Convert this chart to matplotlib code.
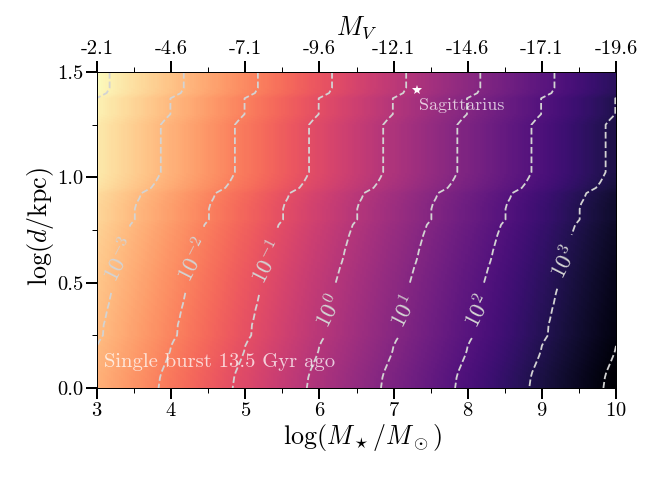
import numpy as np
import matplotlib
matplotlib.use('Agg')
import matplotlib.pyplot as plt

plt.rcParams['font.family'] = ['cmr10', 'DejaVu Serif']
plt.rcParams['mathtext.fontset'] = 'cm'
plt.rcParams['axes.unicode_minus'] = False
plt.rcParams['axes.formatter.use_mathtext'] = True

# values: log10 of the field along the left and right edges,
# one row every 0.025 in log d
log_mass = [3, 10]
log_dist = np.arange(61) * 0.025
field_m3 = [-2.83, -2.84, -2.85, -2.87, -2.90, -2.93, -2.96, -2.985, -3.00, -3.035,
            -3.08, -3.085, -3.09, -3.11, -3.125, -3.14, -3.16, -3.175, -3.19, -3.21,
            -3.22, -3.24, -3.26, -3.28, -3.305, -3.325, -3.34, -3.36, -3.38, -3.40,
            -3.425, -3.45, -3.51, -3.51, -3.51, -3.53, -3.57, -3.60, -3.73, -3.785,
            -3.825, -3.86, -3.86, -3.86, -3.86, -3.86, -3.86, -3.86, -3.86, -3.86,
            -3.86, -3.92, -3.99, -3.99, -3.99, -3.99, -4.13, -4.17, -4.17, -4.17, -4.17]
field_m10 = [4.17, 4.16, 4.15, 4.13, 4.10, 4.07, 4.04, 4.015, 4.00, 3.965,
             3.92, 3.915, 3.91, 3.89, 3.875, 3.86, 3.84, 3.825, 3.81, 3.79,
             3.78, 3.76, 3.74, 3.72, 3.695, 3.675, 3.66, 3.64, 3.62, 3.60,
             3.575, 3.55, 3.49, 3.49, 3.49, 3.47, 3.43, 3.40, 3.27, 3.215,
             3.175, 3.14, 3.14, 3.14, 3.14, 3.14, 3.14, 3.14, 3.14, 3.14,
             3.14, 3.08, 3.01, 3.01, 3.01, 3.01, 2.87, 2.83, 2.83, 2.83, 2.83]
levels = [-4, -3, -2, -1, 0, 1, 2, 3, 4]
level_names = {-4: r'$10^{-4}$', -3: r'$10^{-3}$', -2: r'$10^{-2}$', -1: r'$10^{-1}$', 0: r'$10^{0}$',
               1: r'$10^{1}$', 2: r'$10^{2}$', 3: r'$10^{3}$', 4: r'$10^{4}$'}
label_spots = [(3.27, 0.61), (4.26, 0.61), (5.24, 0.60), (6.07, 0.365),
               (7.08, 0.365), (8.08, 0.365), (9.27, 0.60)]

mv_ticks = [3, 4, 5, 6, 7, 8, 9, 10]
mv_labels = ['-2.1', '-4.6', '-7.1', '-9.6', '-12.1', '-14.6', '-17.1', '-19.6']
sgr_mass, sgr_dist = 7.32, 1.414

fig = plt.figure(figsize=(9, 6.75), dpi=72)
ax = fig.add_axes([97/648, 1 - 388/486, 519/648, 316/486])

field = np.column_stack([field_m3, field_m10])
# extent puts the pixel centres on the grid values
ax.imshow(field, origin='lower', aspect='auto', cmap='magma_r', vmin=-4.2, vmax=4.2,
          extent=[3 - 3.5, 10 + 3.5, -0.0125, 1.5125],
          interpolation='bilinear', interpolation_stage='data')
cs = ax.contour(log_mass, log_dist, field, levels=levels, colors='lightgrey',
                linestyles='--', linewidths=1.8)
labels = ax.clabel(cs, fmt=level_names, manual=label_spots, fontsize=23, inline=True, inline_spacing=10)
for t in labels:
    t.set_rotation(63)

ax.plot(sgr_mass, sgr_dist, marker='*', color='white', ms=10, mew=0, ls='none')
ax.text(7.34, 1.34, 'Sagittarius', color='white', alpha=0.75, fontsize=18, va='center')
ax.text(3.09, 0.125, 'Single burst 13.5 Gyr ago', color='white', alpha=0.75, fontsize=20.6, va='center')

ax.set_xlim(3, 10)
ax.set_ylim(0, 1.5)
ax.set_xticks(mv_ticks)
ax.set_xticks(np.arange(3.5, 10, 1), minor=True)
ax.set_yticks([0, 0.5, 1, 1.5])
ax.set_yticklabels(['0.0', '0.5', '1.0', '1.5'])
ax.set_yticks([0.25, 0.75, 1.25], minor=True)
ax.set_xlabel(r'$\log(M_\star/M_\odot)$', fontsize=26, labelpad=2, x=0.511)
ax.set_ylabel(r'$\log(d/{\rm kpc})$', fontsize=26, labelpad=1, y=0.51)
ax.tick_params(which='major', length=11, width=2, labelsize=20.5, pad=3)
ax.tick_params(which='minor', length=5, width=1)

top = ax.secondary_xaxis('top')
top.set_xticks(mv_ticks)
top.set_xticklabels(mv_labels)
top.set_xticks(np.arange(3.5, 10, 1), minor=True)
top.tick_params(which='major', length=11, width=2, labelsize=20.5, pad=3)
top.tick_params(which='minor', length=5, width=1)
top.set_xlabel(r'$M_V$', fontsize=26, labelpad=5)

for s in ax.spines.values():
    s.set_linewidth(1)

fig.savefig('out.png', dpi=72)
